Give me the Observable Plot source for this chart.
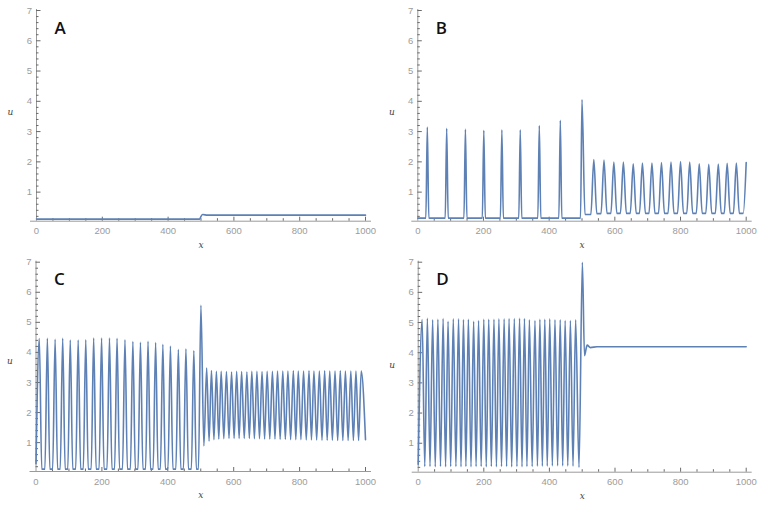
<!DOCTYPE html>
<html>
<head>
<meta charset="utf-8">
<script src="https://cdn.jsdelivr.net/npm/d3@7"></script>
<script src="https://cdn.jsdelivr.net/npm/@observablehq/plot@0.6"></script>
<style>
  html, body { margin: 0; padding: 0; background: #fff; }
  #wrap { position: relative; width: 763px; height: 505px; overflow: hidden; }
  #wrap svg { position: absolute; overflow: visible; }
</style>
</head>
<body>
<div id="wrap"></div>
<script>
// ---------- ticks ----------
const xMajorTicks = [0, 200, 400, 600, 800, 1000];
const xMinorTicks = [50, 100, 150, 250, 300, 350, 450, 500, 550, 650, 700, 750, 850, 900, 950];
const yMajorTicks = [1, 2, 3, 4, 5, 6, 7];
const yMinorTicks = [0.2, 0.4, 0.6, 0.8, 1.2, 1.4, 1.6, 1.8, 2.2, 2.4, 2.6, 2.8, 3.2, 3.4, 3.6, 3.8,
                     4.2, 4.4, 4.6, 4.8, 5.2, 5.4, 5.6, 5.8, 6.2, 6.4, 6.6, 6.8];
const yMin = 0.04, yMax = 7;

// ---------- panel A ----------
const aX = [0, 496, 500, 505, 520, 1000];
const aU = [0.11, 0.11, 0.20, 0.26, 0.24, 0.24];

// ---------- panel B ----------
const bSpikeX = [29, 88, 145, 201, 256, 312, 370, 434, 500];
const bSpikeU = [3.15, 3.11, 3.08, 3.04, 3.06, 3.06, 3.20, 3.37, 4.06];
const bBaseU = 0.14;
const bPeakX = [536, 567, 597, 626, 656, 684, 713, 742, 771, 800, 828, 857, 886, 915, 942, 970, 1000];
const bPeakU = [2.08, 2.06, 1.99, 1.99, 1.94, 1.96, 1.96, 1.98, 1.99, 2.01, 1.99, 1.94, 1.92, 1.93, 1.95, 1.96, 1.98];
const bTroughU = [0.26, 0.29, 0.30, 0.30, 0.30, 0.30, 0.30, 0.30, 0.30, 0.30, 0.30, 0.30, 0.30, 0.30, 0.30, 0.30, 0.30];

// ---------- panel C ----------
const cPeakX = [10, 34.5, 58, 81, 104, 128, 151, 175, 199, 223, 246, 270, 294, 317, 340, 363, 385, 408, 432, 455, 479, 500.5];
const cPeakU = [4.46, 4.47, 4.44, 4.47, 4.41, 4.41, 4.42, 4.48, 4.48, 4.48, 4.47, 4.42, 4.36, 4.34, 4.37, 4.33, 4.27, 4.21, 4.10, 4.12, 4.06, 5.57];
const cTroughU = [0.12, 0.12, 0.12, 0.12, 0.12, 0.12, 0.12, 0.12, 0.12, 0.12, 0.12, 0.12, 0.12, 0.12, 0.12, 0.12, 0.12, 0.12, 0.12, 0.12, 0.12];
const cPeak2X = [518, 532.5, 547.5, 562, 578, 593.5, 609, 624, 640, 655, 670.5, 686, 701.5, 717.5, 733, 749, 764.5,
                 781, 796, 812, 828.5, 843.5, 860, 876, 891.5, 907.5, 923.5, 939, 955.5, 971, 987];
const cPeak2U = [3.48, 3.40, 3.37, 3.37, 3.36, 3.35, 3.37, 3.36, 3.35, 3.37, 3.37, 3.36, 3.37, 3.37, 3.38, 3.38, 3.38,
                 3.39, 3.38, 3.38, 3.39, 3.38, 3.38, 3.39, 3.38, 3.38, 3.39, 3.38, 3.38, 3.38, 3.38];
const cTrough2U = [0.89, 1.05, 1.10, 1.12, 1.13, 1.14, 1.14, 1.14, 1.14, 1.14, 1.13, 1.13, 1.12, 1.12, 1.12, 1.11,
                   1.11, 1.10, 1.10, 1.10, 1.09, 1.09, 1.09, 1.08, 1.08, 1.08, 1.07, 1.07, 1.07, 1.07, 1.07];
const cStart = [0, 0.30];
const cEnd = [1000, 1.10];

// ---------- panel D ----------
const dPeakX = [12, 28, 44, 60, 76, 91, 107, 123, 138, 153, 169, 184, 200, 215, 231, 246, 262, 277, 293, 309,
                324, 339, 356, 371, 386, 401, 417, 433, 448, 464, 480, 500.5];
const dPeakU = [5.10, 5.14, 5.09, 5.11, 5.13, 5.04, 5.12, 5.12, 5.10, 5.11, 5.04, 5.07, 5.11, 5.11, 5.11, 5.12,
                5.12, 5.13, 5.13, 5.14, 5.13, 5.09, 5.07, 5.11, 5.11, 5.12, 5.09, 5.09, 5.07, 5.07, 5.09, 7.0];
const dTroughU = [0.23, 0.23, 0.22, 0.23, 0.22, 0.23, 0.23, 0.22, 0.23, 0.22, 0.23, 0.23, 0.22, 0.23, 0.22, 0.23,
                  0.23, 0.22, 0.23, 0.22, 0.23, 0.23, 0.24, 0.24, 0.24, 0.25, 0.25, 0.25, 0.25, 0.24, 0.20];
const dStart = [0, 0.30];
const dTailX = [507, 515, 525, 545, 1000];
const dTailU = [3.90, 4.25, 4.17, 4.20, 4.20];

// ---------- build series ----------
const aData = aX.map((x, i) => ({x, u: aU[i]}));

const bData = [{x: 0, u: bBaseU}];
bSpikeX.forEach((x, i) => {
  bData.push({x: x - 4.5, u: bBaseU}, {x, u: bSpikeU[i]});
  if (i < bSpikeX.length - 1) bData.push({x: x + 4.5, u: bBaseU});
});
bPeakX.forEach((x, i) => {
  const prev = i === 0 ? bSpikeX[bSpikeX.length - 1] : bPeakX[i - 1];
  bData.push({x: prev + 9, u: bTroughU[i]}, {x: x - 9, u: bTroughU[i]}, {x, u: bPeakU[i]});
});

// narrow peaks with rounded, wide troughs (trough bottom = two points)
const cData = [{x: cStart[0], u: cStart[1]}];
cPeakX.forEach((x, i) => {
  cData.push({x, u: cPeakU[i]});
  if (i < cPeakX.length - 1) {
    const nx = cPeakX[i + 1];
    cData.push({x: x + 7.5, u: cTroughU[i]}, {x: nx - 7.5, u: cTroughU[i]});
  }
});
cData.push({x: 509.5, u: cTrough2U[0]});
cPeak2X.forEach((x, i) => {
  cData.push({x, u: cPeak2U[i]});
  if (i < cPeak2X.length - 1) cData.push({x: (x + cPeak2X[i + 1]) / 2, u: cTrough2U[i + 1]});
});
cData.push({x: cEnd[0], u: cEnd[1]});

const dData = [{x: dStart[0], u: dStart[1]}];
dPeakX.forEach((x, i) => {
  dData.push({x, u: dPeakU[i]});
  if (i < dPeakX.length - 1) dData.push({x: (x + dPeakX[i + 1]) / 2, u: dTroughU[i]});
});
dTailX.forEach((x, i) => dData.push({x, u: dTailU[i]}));

// ---------- styling ----------
const lineColor = "#5E81B5";
const axisColor = "#9a9a9a";
const tickColor = "#6a6a6a";
const labelColor = "#9b9b9b";

function panel({data, letter, left, top, width, height, ml, mr, mt, mb, uDy}) {
  const fh = height - mt - mb;
  const fw = width - ml - mr;
  const svg = Plot.plot({
    width, height,
    marginLeft: ml, marginRight: mr, marginTop: mt, marginBottom: mb,
    x: {domain: [0, 1000]},
    y: {domain: [yMin, yMax]},
    style: {fontFamily: "'Liberation Sans', Arial, sans-serif", fontSize: "9.5px", background: "transparent", overflow: "visible"},
    marks: [
      Plot.ruleY([yMin], {stroke: axisColor, strokeWidth: 1, insetLeft: -6, insetRight: -6}),
      Plot.ruleX([0], {stroke: axisColor, strokeWidth: 1, insetTop: -1}),
      Plot.ruleX(xMajorTicks.filter(d => d > 0), {x: d => d, stroke: tickColor, insetTop: fh - 4}),
      Plot.ruleX(xMinorTicks, {x: d => d, stroke: tickColor, insetTop: fh - 2.5}),
      Plot.ruleY(yMajorTicks, {y: d => d, stroke: tickColor, insetRight: fw - 4.5}),
      Plot.ruleY(yMinorTicks, {y: d => d, stroke: tickColor, insetRight: fw - 2.5}),
      Plot.axisX({ticks: xMajorTicks, tickSize: 0, tickPadding: 6.5, tickFormat: d => `${d}`, label: null, fill: labelColor}),
      Plot.axisY({ticks: yMajorTicks, tickSize: 0, tickPadding: 4.5, tickFormat: d => `${d}`, label: null, fill: labelColor}),
      Plot.line(data, {x: "x", y: "u", stroke: lineColor, strokeWidth: 1.6, curve: "monotone-x"}),
      Plot.text([letter], {text: d => d, frameAnchor: "top-left", dx: 18, dy: 11, lineAnchor: "top", textAnchor: "start",
        fontFamily: "'Open Sans', 'Noto Sans', sans-serif", fontWeight: 600, fontSize: 17, fill: "#111"}),
      Plot.text(["x"], {text: d => d, frameAnchor: "bottom", dy: 23.5, lineAnchor: "middle",
        fontFamily: "'DejaVu Serif', 'Liberation Serif', serif", fontStyle: "italic", fontSize: 9, fill: "#444"}),
      Plot.text(["u"], {text: d => d, frameAnchor: "left", dx: -26, dy: uDy, lineAnchor: "middle", textAnchor: "middle",
        fontFamily: "'DejaVu Serif', 'Liberation Serif', serif", fontStyle: "italic", fontSize: 9, fill: "#444"})
    ]
  });
  svg.style.left = left + "px";
  svg.style.top = top + "px";
  return svg;
}

const wrap = document.getElementById("wrap");
wrap.append(
  panel({data: aData, letter: "A", left: 0, top: 0, width: 380, height: 250, ml: 36, mr: 15, mt: 10, mb: 29.3, uDy: -4}),
  panel({data: bData, letter: "B", left: 380, top: 0, width: 383, height: 250, ml: 37.3, mr: 17.3, mt: 10, mb: 29.3, uDy: -4}),
  panel({data: cData, letter: "C", left: 0, top: 250, width: 380, height: 255, ml: 35.5, mr: 15, mt: 11.7, mb: 34, uDy: -6}),
  panel({data: dData, letter: "D", left: 380, top: 250, width: 383, height: 255, ml: 37.7, mr: 17.3, mt: 11.7, mb: 33.3, uDy: -2})
);
</script>
</body>
</html>
